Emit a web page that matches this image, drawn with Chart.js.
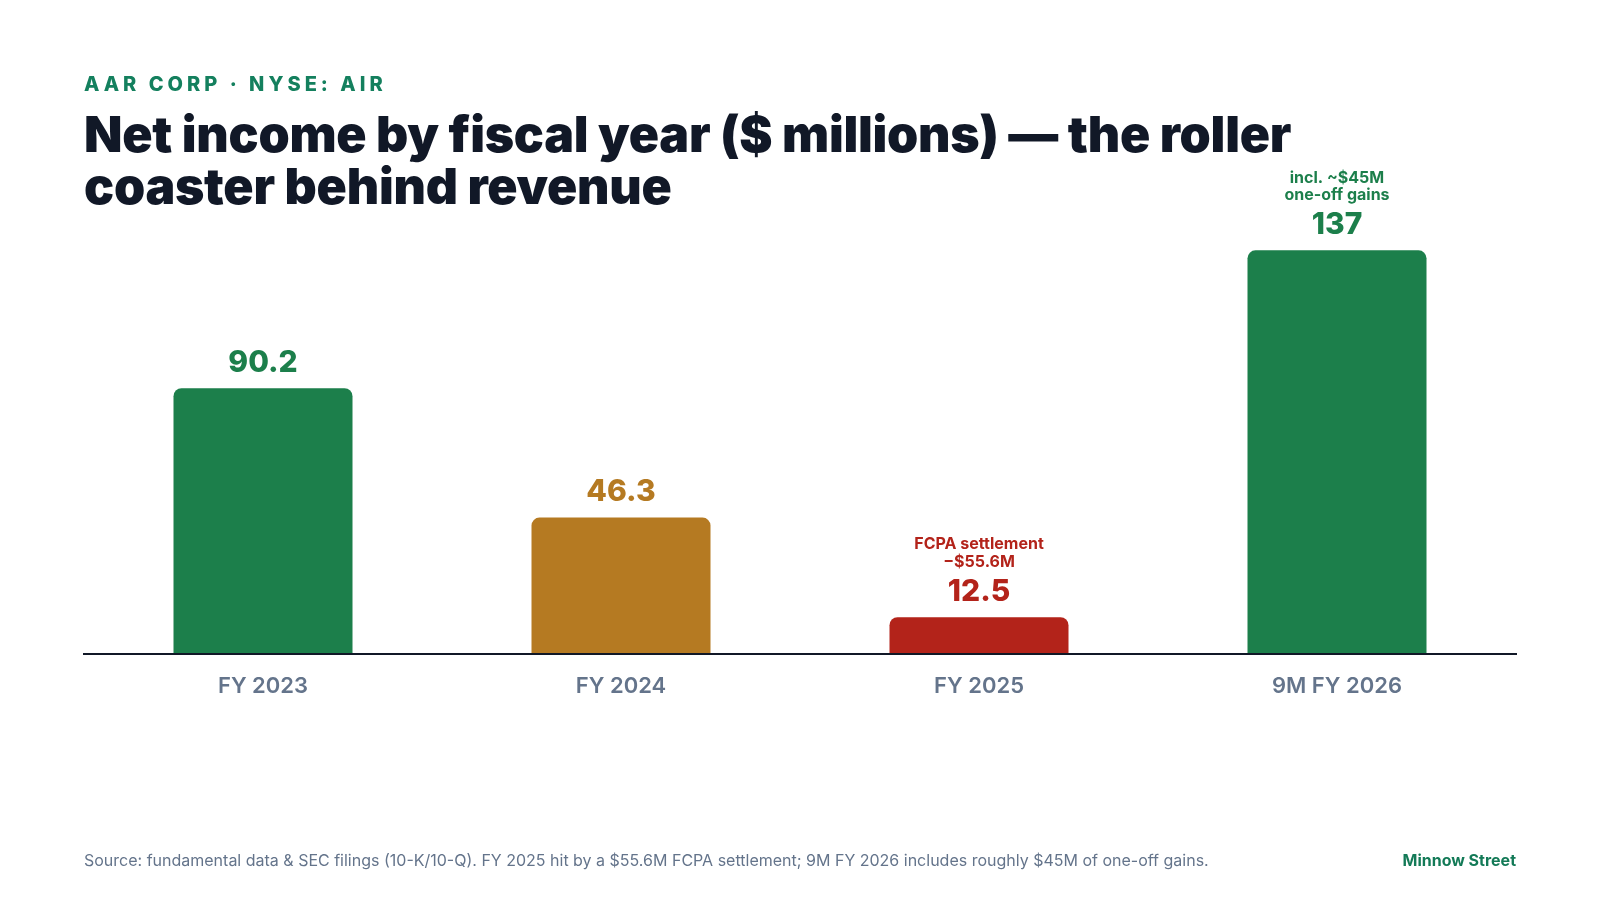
<!DOCTYPE html>
<html>
<head>
<meta charset="utf-8">
<script src="https://cdn.jsdelivr.net/npm/chart.js@4.4.1/dist/chart.umd.min.js"></script>
<style>
  html, body { margin: 0; padding: 0; background: #ffffff; }
  body { width: 1600px; height: 900px; position: relative; overflow: hidden; font-family: Inter, "Noto Sans", sans-serif; }
  #wrap { position: absolute; left: 0; top: 0; width: 1600px; height: 900px; }
  .kicker { position: absolute; left: 84px; top: 74px; font-size: 20px; line-height: 20px; font-weight: 800; letter-spacing: 0.2em; color: #14805e; white-space: nowrap; }
  .title { position: absolute; left: 84px; top: 108px; font-size: 50px; line-height: 52px; font-weight: 900; letter-spacing: -0.005em; color: #111827; white-space: nowrap; }
  .source { position: absolute; left: 84px; top: 852px; font-size: 16px; line-height: 16px; font-weight: 400; color: #64748b; white-space: nowrap; }
  .brand { position: absolute; right: 84px; top: 852px; font-size: 16px; line-height: 16px; font-weight: 700; color: #137a57; white-space: nowrap; }
</style>
</head>
<body>
<div id="wrap"><canvas id="c"></canvas></div>
<div class="kicker">AAR CORP · NYSE: AIR</div>
<div class="title">Net income by fiscal year ($ millions) — the roller<br>coaster behind revenue</div>
<div class="source">Source: fundamental data &amp; SEC filings (10-K/10-Q). FY 2025 hit by a $55.6M FCPA settlement; 9M FY 2026 includes roughly $45M of one-off gains.</div>
<div class="brand">Minnow Street</div>
<script>
const categories = ['FY 2023', 'FY 2024', 'FY 2025', '9M FY 2026'];
const netIncome = [90.2, 46.3, 12.5, 137];
const valueLabels = ['90.2', '46.3', '12.5', '137'];
const barColors = ['#1c7f4b', '#b57a22', '#b3231a', '#1c7f4b'];
const notes = [[], [], ['FCPA settlement', '\u2212$55.6M'], ['incl. ~$45M', 'one-off gains']];
const yMin = 0;
const yMax = 150;

const labelPlugin = {
  id: 'valueLabels',
  afterDatasetsDraw(chart) {
    const ctx = chart.ctx;
    const meta = chart.getDatasetMeta(0);
    ctx.save();
    ctx.textAlign = 'center';
    ctx.textBaseline = 'alphabetic';
    meta.data.forEach((bar, i) => {
      const x = bar.x;
      const valueBase = bar.y - 16.5;
      ctx.fillStyle = barColors[i];
      ctx.font = '800 30px Inter';
      ctx.fillText(valueLabels[i], x, valueBase);
      const lines = notes[i];
      ctx.font = '700 16px Inter';
      for (let k = lines.length - 1, j = 0; k >= 0; k--, j++) {
        ctx.fillText(lines[k], x, valueBase - 34 - j * 17.3);
      }
    });
    ctx.restore();
  }
};

function draw() {
  new Chart(document.getElementById('c'), {
    type: 'bar',
    data: {
      labels: categories,
      datasets: [{
        data: netIncome,
        backgroundColor: barColors,
        borderRadius: 8,
        borderSkipped: 'bottom',
        barPercentage: 0.5,
        categoryPercentage: 1.0
      }]
    },
    options: {
      responsive: false,
      maintainAspectRatio: false,
      animation: false,
      devicePixelRatio: 1,
      layout: { padding: { left: 84, right: 84, top: 212, bottom: 206 } },
      plugins: { legend: { display: false }, tooltip: { enabled: false } },
      scales: {
        x: {
          grid: { display: false, drawTicks: false },
          border: { display: true, color: '#111827', width: 2, z: 1 },
          ticks: { color: '#64748b', font: { family: 'Inter', size: 22, weight: '600' }, padding: 19 },
          afterFit(scale) { scale.height = 40; }
        },
        y: {
          display: false,
          min: yMin,
          max: yMax
        }
      }
    },
    plugins: [labelPlugin]
  });
}

const c = document.getElementById('c');
c.width = 1600; c.height = 900;
c.style.width = '1600px'; c.style.height = '900px';
Promise.all([
  document.fonts.load('800 30px Inter'),
  document.fonts.load('700 16px Inter'),
  document.fonts.load('600 22px Inter')
]).then(draw, draw);
</script>
</body>
</html>
